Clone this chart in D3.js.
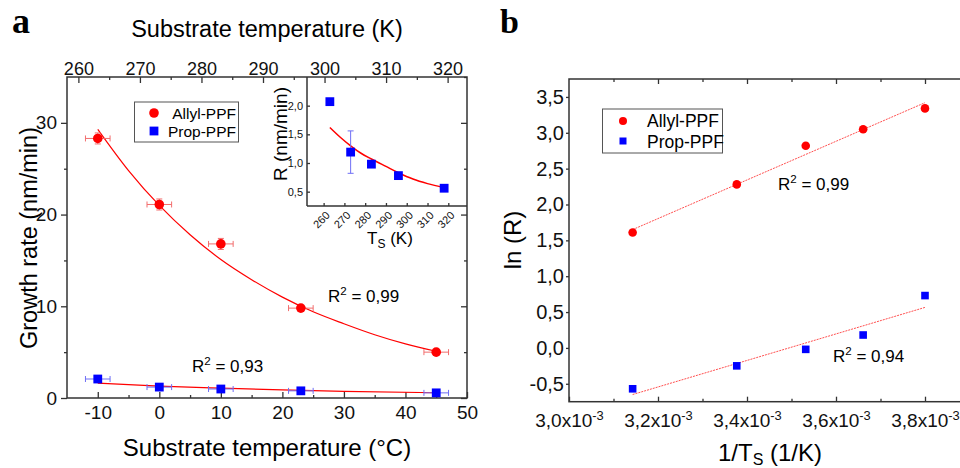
<!DOCTYPE html>
<html>
<head>
<meta charset="utf-8">
<script src="https://cdn.jsdelivr.net/npm/d3@7"></script>
<style>
  body { margin: 0; background: #fff; }
  svg { display: block; font-family: "Liberation Sans", Arial, sans-serif; }
</style>
</head>
<body>
<div id="area"></div>
<script>
// measured points (panel a + inset)
var tempC = [-10, 0, 10, 23, 45];
var tempK = [263, 273, 283, 296, 318];
var allylRate = [28.3, 21.1, 16.8, 9.8, 5.0];
var allylErr = [0.6, 0.6, 0.6, 0.3, 0.3];
var propRate = [2.07, 1.19, 0.98, 0.78, 0.56];
var propErrMain = [0.1, 0.1, 0.1, 0.1, 0.1];
var propErrInset = [0.03, 0.37, 0.03, 0.03, 0.03];
var tempErr = [2, 2, 2, 2, 2];
var tempErrInset = [1, 1, 1, 1, 1];

// fitted curves
var allylFitC = [[-10, 29.3], [-5, 24.8], [0, 21.0], [5, 17.8], [10, 15.1], [15, 12.9], [20, 11.0], [25, 9.4], [30, 8.1], [35, 6.9], [40, 5.9], [45, 5.1]];
var propFitC = [[-10, 1.62], [0, 1.30], [10, 1.07], [20, 0.88], [30, 0.73], [45, 0.57]];
var propFitK = [[263, 1.62], [268, 1.45], [273, 1.30], [278, 1.17], [283, 1.07], [290, 0.94], [296, 0.83], [303, 0.72], [310, 0.64], [318, 0.57]];

// panel b (Arrhenius)
var invT = [3.143e-3, 3.377e-3, 3.532e-3, 3.661e-3, 3.800e-3];
var lnAllyl = [1.61, 2.28, 2.82, 3.05, 3.34];
var lnProp = [-0.57, -0.25, -0.02, 0.18, 0.73];
var allylFitB = [[3.143e-3, 1.65], [3.800e-3, 3.42]];
var propFitB = [[3.143e-3, -0.65], [3.800e-3, 0.565]];

// ticks
var cTicks = [-10, 0, 10, 20, 30, 40, 50];
var cMinor = [-5, 5, 15, 25, 35, 45];
var kTicks = [260, 270, 280, 290, 300, 310, 320];
var kMinor = [265, 275, 285, 295, 305, 315];
var rateTicks = [0, 10, 20, 30];
var rateMinor = [5, 15, 25, 35];
var insetXTicks = [260, 270, 280, 290, 300, 310, 320];
var insetYTicks = [0.5, 1.0, 1.5, 2.0];
var invTTicks = [3.0e-3, 3.2e-3, 3.4e-3, 3.6e-3, 3.8e-3];
var invTMinor = [3.1e-3, 3.3e-3, 3.5e-3, 3.7e-3];
var lnTicks = [-0.5, 0, 0.5, 1.0, 1.5, 2.0, 2.5, 3.0, 3.5];

var RED = "#ff0000", BLUE = "#0000ff", FRAME = "#333";
var ERR_RED = "#f26d6d", ERR_BLUE = "#6f6ff5";

var loc = d3.formatLocale({decimal: ",", thousands: ".", grouping: [3], currency: ["", ""], minus: "-"});
var f1 = loc.format(".1f");
var fInt = loc.format("d");

var svg = d3.select('#area').append('svg')
            .attr('width', 960)
            .attr('height', 468);
svg.append('rect').attr('width', 960).attr('height', 468).attr('fill', '#fff');

function styleAxis(g, size) {
  g.select('.domain').remove();
  g.selectAll('.tick line').attr('stroke', FRAME).attr('stroke-width', 1.3);
  g.selectAll('.tick text').attr('fill', '#111').attr('font-size', size)
   .attr('font-family', '"Liberation Sans", Arial, sans-serif');
}

function supLabel(sel, base, sup, rest, size) {
  sel.append('tspan').text(base);
  sel.append('tspan').attr('dy', -size * 0.4).attr('font-size', size * 0.68).text(sup);
  sel.append('tspan').attr('dy', size * 0.4).text(rest);
}

// ================= panel a =================
var ax = d3.scaleLinear().domain([-15, 50]).range([67, 467]);
var ay = d3.scaleLinear().domain([0, 35]).range([398, 77]);
var kx = d3.scaleLinear().domain([-15 + 273.15, 50 + 273.15]).range([67, 467]);

var ga = svg.append('g');

// axes
styleAxis(ga.append('g').attr('transform', 'translate(0,398)')
  .call(d3.axisBottom(ax).tickValues(cTicks).tickSize(-6).tickPadding(8).tickFormat(fInt)), 19);
styleAxis(ga.append('g').attr('transform', 'translate(0,398)')
  .call(d3.axisBottom(ax).tickValues(cMinor).tickSize(-3).tickFormat('')), 19);
styleAxis(ga.append('g').attr('transform', 'translate(0,77)')
  .call(d3.axisTop(kx).tickValues(kTicks).tickSize(-6).tickPadding(2).tickFormat(fInt)), 18);
styleAxis(ga.append('g').attr('transform', 'translate(0,77)')
  .call(d3.axisTop(kx).tickValues(kMinor).tickSize(-3).tickFormat('')), 18);
styleAxis(ga.append('g').attr('transform', 'translate(67,0)')
  .call(d3.axisLeft(ay).tickValues(rateTicks).tickSize(6).tickPadding(4).tickFormat(fInt)), 19);
styleAxis(ga.append('g').attr('transform', 'translate(67,0)')
  .call(d3.axisLeft(ay).tickValues(rateMinor.slice(0, 3)).tickSize(3).tickFormat('')), 19);
styleAxis(ga.append('g').attr('transform', 'translate(467,0)')
  .call(d3.axisRight(ay).tickValues(rateTicks).tickSize(-6).tickFormat('')), 19);
styleAxis(ga.append('g').attr('transform', 'translate(467,0)')
  .call(d3.axisRight(ay).tickValues(rateMinor).tickSize(-3).tickFormat('')), 19);

ga.append('rect').attr('x', 67).attr('y', 77).attr('width', 400).attr('height', 321)
  .attr('fill', 'none').attr('stroke', FRAME).attr('stroke-width', 1.5);

// fit curves
var lineA = d3.line().x(function(d) { return ax(d[0]); }).y(function(d) { return ay(d[1]); })
              .curve(d3.curveMonotoneX);
ga.append('path').attr('d', lineA(allylFitC)).attr('fill', 'none').attr('stroke', RED).attr('stroke-width', 1.2);
ga.append('path').attr('d', lineA(propFitC)).attr('fill', 'none').attr('stroke', RED).attr('stroke-width', 1.2);

function errorBars(g, xs, ys, xe, ye, sx, sy, color) {
  xs.forEach(function(x, i) {
    var cx = sx(x), cy = sy(ys[i]);
    var x0 = sx(x - xe[i]), x1 = sx(x + xe[i]);
    var y0 = sy(ys[i] - ye[i]), y1 = sy(ys[i] + ye[i]);
    var eg = g.append('g').attr('stroke', color).attr('stroke-width', 1);
    eg.append('line').attr('x1', x0).attr('x2', x1).attr('y1', cy).attr('y2', cy);
    eg.append('line').attr('x1', x0).attr('x2', x0).attr('y1', cy - 3).attr('y2', cy + 3);
    eg.append('line').attr('x1', x1).attr('x2', x1).attr('y1', cy - 3).attr('y2', cy + 3);
    if (Math.abs(y0 - y1) > 2) {
      eg.append('line').attr('x1', cx).attr('x2', cx).attr('y1', y0).attr('y2', y1);
      eg.append('line').attr('x1', cx - 3).attr('x2', cx + 3).attr('y1', y0).attr('y2', y0);
      eg.append('line').attr('x1', cx - 3).attr('x2', cx + 3).attr('y1', y1).attr('y2', y1);
    }
  });
}

errorBars(ga, tempC, allylRate, tempErr, allylErr, ax, ay, ERR_RED);
errorBars(ga, tempC, propRate, tempErr, propErrMain, ax, ay, ERR_BLUE);

ga.selectAll('.allyl').data(tempC).enter().append('circle')
  .attr('cx', function(d) { return ax(d); })
  .attr('cy', function(d, i) { return ay(allylRate[i]); })
  .attr('r', 4.8).attr('fill', RED);
ga.selectAll('.prop').data(tempC).enter().append('rect')
  .attr('x', function(d) { return ax(d) - 4.4; })
  .attr('y', function(d, i) { return ay(propRate[i]) - 4.4; })
  .attr('width', 8.8).attr('height', 8.8).attr('fill', BLUE);

// legend a
ga.append('rect').attr('x', 134.5).attr('y', 102).attr('width', 104).attr('height', 40)
  .attr('fill', '#fff').attr('stroke', '#555').attr('stroke-width', 1);
ga.append('circle').attr('cx', 154).attr('cy', 113).attr('r', 4.8).attr('fill', RED);
ga.append('rect').attr('x', 149.6).attr('y', 126.6).attr('width', 8.8).attr('height', 8.8).attr('fill', BLUE);
ga.append('text').attr('x', 236).attr('y', 118.5).attr('text-anchor', 'end').attr('font-size', 15.5).text('Allyl-PPF');
ga.append('text').attr('x', 236).attr('y', 136.5).attr('text-anchor', 'end').attr('font-size', 15.5).text('Prop-PPF');

// R² labels a
supLabel(ga.append('text').attr('x', 328).attr('y', 302).attr('font-size', 17), 'R', '2', ' = 0,99', 17);
supLabel(ga.append('text').attr('x', 192).attr('y', 372).attr('font-size', 17), 'R', '2', ' = 0,93', 17);

// titles a
ga.append('text').attr('x', 267).attr('y', 37).attr('text-anchor', 'middle').attr('font-size', 23.5)
  .text('Substrate temperature (K)');
ga.append('text').attr('x', 267).attr('y', 456).attr('text-anchor', 'middle').attr('font-size', 24)
  .text('Substrate temperature (°C)');
ga.append('text').attr('transform', 'translate(37,238) rotate(-90)').attr('text-anchor', 'middle')
  .attr('font-size', 23.5).text('Growth rate (nm/min)');
ga.append('text').attr('x', 12).attr('y', 33).attr('font-family', '"Liberation Serif", serif')
  .attr('font-weight', 'bold').attr('font-size', 36).text('a');

// ---------- inset ----------
var ix = d3.scaleLinear().domain([252, 329]).range([307, 467]);
var iy = d3.scaleLinear().domain([0.25, 2.5]).range([206, 77]);
var gi = svg.append('g');

var ixAxis = gi.append('g').attr('transform', 'translate(0,206)')
  .call(d3.axisBottom(ix).tickValues(insetXTicks).tickSize(-3).tickFormat(fInt));
styleAxis(ixAxis, 11);
ixAxis.selectAll('.tick text')
  .attr('text-anchor', 'end').attr('dy', null).attr('y', null)
  .attr('transform', 'translate(6.5,10) rotate(-45)');
styleAxis(gi.append('g').attr('transform', 'translate(307,0)')
  .call(d3.axisLeft(iy).tickValues(insetYTicks).tickSize(-3).tickPadding(4).tickFormat(f1)), 11);

gi.append('line').attr('x1', 307).attr('x2', 307).attr('y1', 77).attr('y2', 206)
  .attr('stroke', FRAME).attr('stroke-width', 1.5);
gi.append('line').attr('x1', 307).attr('x2', 467).attr('y1', 206).attr('y2', 206)
  .attr('stroke', FRAME).attr('stroke-width', 1.5);

var lineI = d3.line().x(function(d) { return ix(d[0]); }).y(function(d) { return iy(d[1]); })
              .curve(d3.curveMonotoneX);
gi.append('path').attr('d', lineI(propFitK)).attr('fill', 'none').attr('stroke', RED).attr('stroke-width', 1.5);
errorBars(gi, tempK, propRate, tempErrInset, propErrInset, ix, iy, ERR_BLUE);
gi.selectAll('.ip').data(tempK).enter().append('rect')
  .attr('x', function(d) { return ix(d) - 4.4; })
  .attr('y', function(d, i) { return iy(propRate[i]) - 4.4; })
  .attr('width', 8.8).attr('height', 8.8).attr('fill', BLUE);

gi.append('text').attr('transform', 'translate(287,134) rotate(-90)').attr('text-anchor', 'middle')
  .attr('font-size', 19).text('R (nm/min)');
var ts = gi.append('text').attr('x', 367).attr('y', 244).attr('font-size', 17);
ts.append('tspan').text('T');
ts.append('tspan').attr('dy', 4).attr('font-size', 12).text('S');
ts.append('tspan').attr('dy', -4).text(' (K)');

// ================= panel b =================
var bx = d3.scaleLinear().domain([3.0e-3, 3.88e-3]).range([569, 960.6]);
var by = d3.scaleLinear().domain([-0.75, 3.75]).range([401.7, 79]);
var gb = svg.append('g');

var bxAxis = gb.append('g').attr('transform', 'translate(0,401.7)')
  .call(d3.axisBottom(bx).tickValues(invTTicks).tickSize(-5).tickPadding(12).tickFormat(''));
styleAxis(bxAxis, 19);
bxAxis.selectAll('.tick text').each(function(d) {
  var t = d3.select(this);
  t.text(null);
  supLabel(t, f1(d * 1000) + 'x10', '-3', '', 19);
});
styleAxis(gb.append('g').attr('transform', 'translate(0,401.7)')
  .call(d3.axisBottom(bx).tickValues(invTMinor).tickSize(-3).tickFormat('')), 19);
styleAxis(gb.append('g').attr('transform', 'translate(0,79)')
  .call(d3.axisTop(bx).tickValues(invTTicks.slice(1)).tickSize(-5).tickFormat('')), 19);
styleAxis(gb.append('g').attr('transform', 'translate(0,79)')
  .call(d3.axisTop(bx).tickValues(invTMinor).tickSize(-3).tickFormat('')), 19);
styleAxis(gb.append('g').attr('transform', 'translate(569,0)')
  .call(d3.axisLeft(by).tickValues(lnTicks).tickSize(3).tickPadding(2).tickFormat(f1)), 20);

gb.append('rect').attr('x', 569).attr('y', 79).attr('width', 400).attr('height', 322.7)
  .attr('fill', 'none').attr('stroke', FRAME).attr('stroke-width', 1.5);

var lineB = d3.line().x(function(d) { return bx(d[0]); }).y(function(d) { return by(d[1]); });
gb.append('path').attr('d', lineB(allylFitB)).attr('fill', 'none').attr('stroke', '#ff5050')
  .attr('stroke-width', 1).attr('stroke-dasharray', '2,1');
gb.append('path').attr('d', lineB(propFitB)).attr('fill', 'none').attr('stroke', '#ff5050')
  .attr('stroke-width', 1).attr('stroke-dasharray', '2,1');

gb.selectAll('.ba').data(invT).enter().append('circle')
  .attr('cx', function(d) { return bx(d); })
  .attr('cy', function(d, i) { return by(lnAllyl[i]); })
  .attr('r', 4.3).attr('fill', RED);
gb.selectAll('.bp').data(invT).enter().append('rect')
  .attr('x', function(d) { return bx(d) - 3.8; })
  .attr('y', function(d, i) { return by(lnProp[i]) - 3.8; })
  .attr('width', 7.6).attr('height', 7.6).attr('fill', BLUE);

// legend b
gb.append('rect').attr('x', 602.5).attr('y', 109).attr('width', 120).attr('height', 44)
  .attr('fill', '#fff').attr('stroke', '#555').attr('stroke-width', 1);
gb.append('circle').attr('cx', 623).attr('cy', 121).attr('r', 4).attr('fill', RED);
gb.append('rect').attr('x', 619.5).attr('y', 137.5).attr('width', 7).attr('height', 7).attr('fill', BLUE);
gb.append('text').attr('x', 647).attr('y', 127).attr('font-size', 17.5).text('Allyl-PPF');
gb.append('text').attr('x', 647).attr('y', 148).attr('font-size', 17.5).text('Prop-PPF');

supLabel(gb.append('text').attr('x', 778).attr('y', 190).attr('font-size', 17), 'R', '2', ' = 0,99', 17);
supLabel(gb.append('text').attr('x', 833).attr('y', 362).attr('font-size', 17), 'R', '2', ' = 0,94', 17);

gb.append('text').attr('transform', 'translate(521,240) rotate(-90)').attr('text-anchor', 'middle')
  .attr('font-size', 24).text('ln (R)');
var xl = gb.append('text').attr('x', 770).attr('y', 461).attr('text-anchor', 'middle').attr('font-size', 24);
xl.append('tspan').text('1/T');
xl.append('tspan').attr('dy', 4).attr('font-size', 16).text('S');
xl.append('tspan').attr('dy', -4).text(' (1/K)');
gb.append('text').attr('x', 500).attr('y', 33).attr('font-family', '"Liberation Serif", serif')
  .attr('font-weight', 'bold').attr('font-size', 34).text('b');
</script>
</body>
</html>
